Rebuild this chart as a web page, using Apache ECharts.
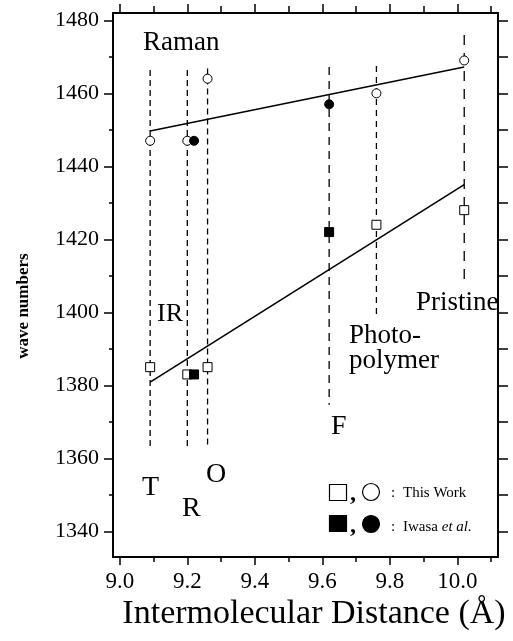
<!DOCTYPE html>
<html>
<head>
<meta charset="utf-8">
<script src="https://cdn.jsdelivr.net/npm/echarts@6/dist/echarts.min.js"></script>
<style>
html,body{margin:0;padding:0;background:#fff;}
#chart{width:513px;height:641px;}
</style>
</head>
<body>
<div id="chart"></div>
<script>
// ---- data ----
var xMajorTicks = [9.0, 9.2, 9.4, 9.6, 9.8, 10.0];
var xMinorTicks = [9.1, 9.3, 9.5, 9.7, 9.9, 10.1];
var yMajorTicks = [1340, 1360, 1380, 1400, 1420, 1440, 1460, 1480];
var yMinorTicks = [1350, 1370, 1390, 1410, 1430, 1450, 1470];

// Raman (circles)
var ramanThisWork = [[9.09, 1447], [9.20, 1447], [9.26, 1464], [9.76, 1460], [10.02, 1469]];
var ramanIwasa = [[9.22, 1447], [9.62, 1457]];
// IR (squares)
var irThisWork = [[9.09, 1385], [9.20, 1383], [9.26, 1385], [9.76, 1424], [10.02, 1428]];
var irIwasa = [[9.22, 1383], [9.62, 1422]];
// fitted lines (end points)
var ramanFit = [[9.09, 1449.7], [10.02, 1467.2]];
var irFit = [[9.09, 1380.9], [10.02, 1435.0]];
// vertical guide lines (phases)
var guideX = [9.09, 9.20, 9.26, 9.62, 9.76, 10.02];
var guideTop = [1466.4, 1466.4, 1466.8, 1467.2, 1467.5, 1476.0];
var guideBottom = [1363.4, 1363.4, 1363.2, 1374.7, 1399.3, 1408.4];
var guideDash = [[6, 4], [6, 4], [6, 4], [8, 6], [6, 5], [10, 8]];

var FONT = '"Liberation Serif", "Times New Roman", serif';
var chart = echarts.init(document.getElementById('chart'), null, {renderer: 'canvas'});

var XMIN = 8.98, XMAX = 10.12, YMIN = 1333, YMAX = 1482;

function xAx(pos, ticks, len, showLine, labels) {
  return {
    type: 'value', position: pos, min: XMIN, max: XMAX,
    axisLine: {show: showLine, onZero: false, lineStyle: {color: '#000', width: 2}},
    axisTick: {show: true, customValues: ticks, length: len, inside: false, lineStyle: {color: '#000', width: 1.5}},
    axisLabel: labels ? {show: true, customValues: ticks, formatter: function (v) { return Number(v).toFixed(1); },
      color: '#000', fontFamily: FONT, fontSize: 23, margin: 13} : {show: false},
    splitLine: {show: false}
  };
}
function yAx(pos, ticks, len, showLine, labels) {
  return {
    type: 'value', position: pos, min: YMIN, max: YMAX,
    axisLine: {show: showLine, onZero: false, lineStyle: {color: '#000', width: 2}},
    axisTick: {show: true, customValues: ticks, length: len, inside: false, lineStyle: {color: '#000', width: 1.5}},
    axisLabel: labels ? {show: true, customValues: ticks, formatter: function (v) { return String(Math.round(v)); },
      color: '#000', fontFamily: FONT, fontSize: 22, margin: 14} : {show: false},
    splitLine: {show: false}
  };
}

var series = [];
guideX.forEach(function (x, i) {
  series.push({
    type: 'line', xAxisIndex: 0, yAxisIndex: 0, silent: true, symbol: 'none',
    data: [[x, guideTop[i]], [x, guideBottom[i]]],
    lineStyle: {color: '#000', width: 1.3, type: guideDash[i]}, z: 1
  });
});
[ramanFit, irFit].forEach(function (d) {
  series.push({type: 'line', xAxisIndex: 0, yAxisIndex: 0, silent: true, symbol: 'none',
    data: d, lineStyle: {color: '#000', width: 1.6}, z: 2});
});
function sc(data, sym, fill) {
  return {type: 'scatter', data: data, symbol: sym, symbolSize: 9, silent: true,
    itemStyle: {color: fill, borderColor: '#000', borderWidth: 1, opacity: 1}, z: 3};
}
series.push(sc(ramanThisWork, 'circle', '#fff'));
series.push(sc(ramanIwasa, 'circle', '#000'));
series.push(sc(irThisWork, 'rect', '#fff'));
series.push(sc(irIwasa, 'rect', '#000'));

function txt(t, x, y, size, extra) {
  var s = {text: t, x: x, y: y, fill: '#000', font: size + 'px ' + FONT, textAlign: 'left', textVerticalAlign: 'middle'};
  if (extra) for (var k in extra) s[k] = extra[k];
  return {type: 'text', style: s, z: 10};
}

var graphics = [
  txt('Raman', 143, 43, 27),
  txt('IR', 157, 314, 26),
  txt('Pristine', 416, 303, 27),
  txt('Photo-', 349, 336, 27),
  txt('polymer', 349, 361, 27),
  txt('F', 331, 427, 28),
  txt('T', 142, 488, 28),
  txt('R', 182, 509, 28),
  txt('O', 206, 475, 28),
  // legend
  {type: 'rect', shape: {x: 329.5, y: 484.5, width: 17, height: 16}, style: {fill: '#fff', stroke: '#000', lineWidth: 1.2}, z: 10},
  {type: 'circle', shape: {cx: 371, cy: 492, r: 8.5}, style: {fill: '#fff', stroke: '#000', lineWidth: 1.2}, z: 10},
  {type: 'rect', shape: {x: 329.5, y: 515.5, width: 17, height: 16}, style: {fill: '#000', stroke: '#000', lineWidth: 1.2}, z: 10},
  {type: 'circle', shape: {cx: 371, cy: 524, r: 8.5}, style: {fill: '#000', stroke: '#000', lineWidth: 1.2}, z: 10},
  txt(',', 350, 494, 24, {font: 'bold 24px ' + FONT}),
  txt(',', 350, 526, 24, {font: 'bold 24px ' + FONT}),
  txt(':', 391, 493, 15),
  txt(':', 391, 527, 15),
  txt('This Work', 403, 493, 15),
  {type: 'text', z: 10, style: {x: 403, y: 527, textVerticalAlign: 'middle', fill: '#000',
    text: '{n|Iwasa }{i|et al.}', rich: {n: {fontFamily: FONT, fontSize: 15}, i: {fontFamily: FONT, fontSize: 15, fontStyle: 'italic'}}}},
  // axis titles
  txt('Intermolecular Distance (\u00C5)', 314, 614, 34, {textAlign: 'center'}),
  {type: 'text', z: 10, x: 24, y: 306, rotation: Math.PI / 2,
    style: {text: 'wave numbers', x: 0, y: 0, fill: '#000', font: 'bold 17px ' + FONT, textAlign: 'center', textVerticalAlign: 'middle'}}
];

chart.setOption({
  animation: false,
  backgroundColor: '#fff',
  grid: {left: 113, right: 15, top: 13, bottom: 84, containLabel: false},
  xAxis: [
    xAx('bottom', xMajorTicks, 8, true, true),
    xAx('bottom', xMinorTicks, 5, false, false),
    xAx('top', xMajorTicks, 9, true, false),
    xAx('top', xMinorTicks, 7, false, false)
  ],
  yAxis: [
    yAx('left', yMajorTicks, 9, true, true),
    yAx('left', yMinorTicks, 4, false, false),
    yAx('right', yMajorTicks.concat(yMinorTicks), 10, true, false)
  ],
  series: series,
  graphic: graphics
});
</script>
</body>
</html>
